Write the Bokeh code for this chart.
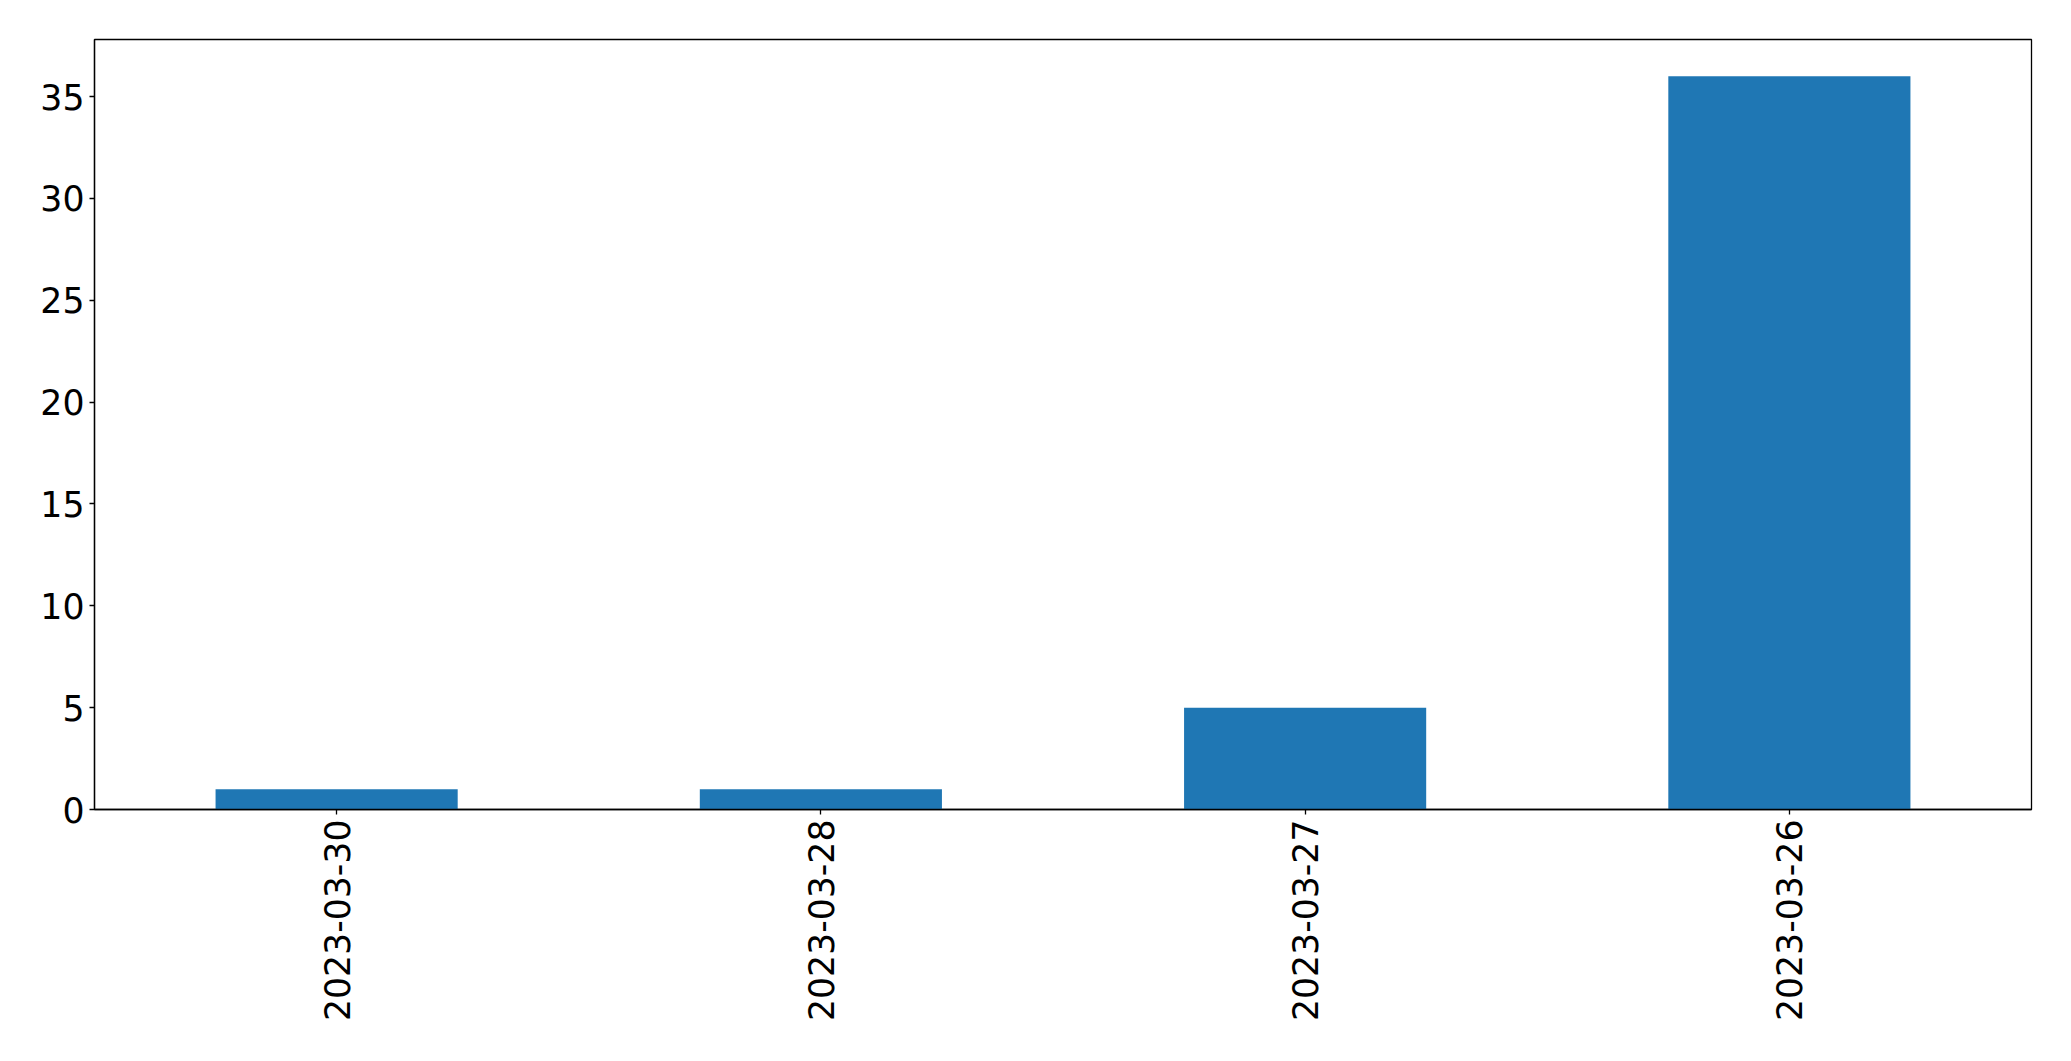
import math
from bokeh.plotting import figure
from bokeh.models import ColumnDataSource, FactorRange, Range1d, FixedTicker
from bokeh.embed import file_html
from bokeh.resources import INLINE

dates = ["2023-03-30", "2023-03-28", "2023-03-27", "2023-03-26"]
counts = [1, 1, 5, 36]
y_ticks = [0, 5, 10, 15, 20, 25, 30, 35]

source = ColumnDataSource(data=dict(dates=dates, counts=counts))

p = figure(
    x_range=FactorRange(*dates, range_padding=0),
    y_range=Range1d(0, max(counts) * 1.05),
    width=2055, height=1045,
    output_backend="svg", toolbar_location=None,
    min_border_left=94, min_border_top=39, min_border_right=24, min_border_bottom=236,
)

p.vbar(x="dates", top="counts", width=0.5, source=source,
       fill_color="#1f77b4", line_color=None)

p.xgrid.grid_line_color = None
p.ygrid.grid_line_color = None
p.outline_line_color = "black"
p.outline_line_width = 1.3
p.background_fill_color = "white"
p.border_fill_color = "white"

for ax in (p.xaxis[0], p.yaxis[0]):
    ax.axis_line_color = "black"
    ax.axis_line_width = 1.3
    ax.major_tick_line_color = "black"
    ax.major_tick_line_width = 1.3
    ax.major_tick_out = 5
    ax.major_tick_in = 0
    ax.minor_tick_line_color = None
    ax.major_label_text_font = "DejaVu Sans"
    ax.major_label_text_font_size = "34.7px"
    ax.major_label_text_color = "black"
    ax.major_label_standoff = 5

p.yaxis.ticker = FixedTicker(ticks=y_ticks)
p.xaxis.major_label_orientation = math.pi / 2

open("out.html", "w").write(file_html(p, INLINE))
